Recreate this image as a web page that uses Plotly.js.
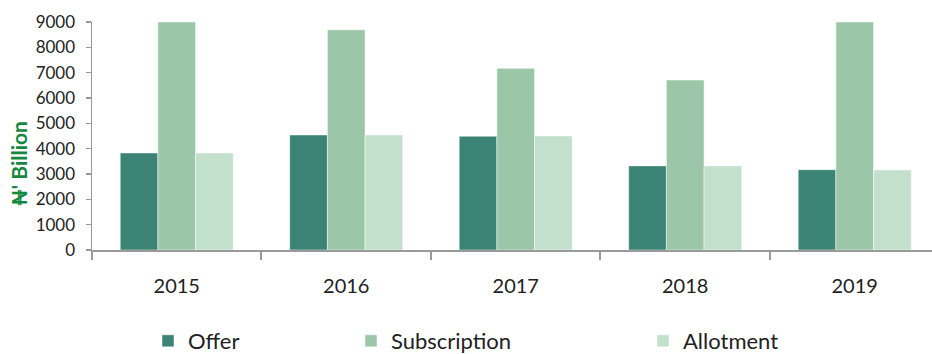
<!DOCTYPE html>
<html>
<head>
<meta charset="utf-8">
<script src="https://cdn.plot.ly/plotly-3.0.1.min.js"></script>
<style>html,body{margin:0;padding:0;background:#fff;}#chart{width:932px;height:354px;}</style>
</head>
<body>
<div id="chart"></div>
<script>
const years = ['2015', '2016', '2017', '2018', '2019'];
const offer = [3830, 4540, 4490, 3320, 3170];
const subscription = [9000, 8690, 7170, 6710, 9000];
const allotment = [3830, 4540, 4500, 3320, 3160];
const yTicks = [0, 1000, 2000, 3000, 4000, 5000, 6000, 7000, 8000, 9000];
const yTitle = "₦' Billion";

const FONT = 'Lato, "Open Sans", sans-serif';
const colors = ['#3b8374', '#9cc6a8', '#c3e0cd'];
const names = ['Offer', 'Subscription', 'Allotment'];
const series = [offer, subscription, allotment];
const legendIds = ['legend', 'legend2', 'legend3'];

const traces = series.map((vals, i) => ({
  type: 'bar',
  x: years,
  y: vals,
  name: names[i],
  legend: legendIds[i],
  marker: {color: colors[i], line: {color: 'rgba(255,255,255,0.6)', width: 0.8}},
  hoverinfo: 'x+y+name'
}));

const legendStyle = (x) => ({
  orientation: 'h', xref: 'container', yref: 'container',
  x: x, y: 13 / 354, xanchor: 'left', yanchor: 'middle',
  font: {family: FONT, size: 22, color: '#222'},
  bgcolor: 'rgba(0,0,0,0)', itemwidth: 30
});

const M = {l: 92, r: 0, t: 22, b: 104};
const plotW = 932 - M.l - M.r, plotH = 354 - M.t - M.b;

const layout = {
  width: 932, height: 354,
  margin: M,
  paper_bgcolor: '#fff', plot_bgcolor: '#fff',
  barmode: 'group', bargap: 0.333, bargroupgap: 0,
  showlegend: true,
  legend: legendStyle(148 / 932),
  legend2: legendStyle(351 / 932),
  legend3: legendStyle(643 / 932),
  xaxis: {
    type: 'category',
    range: [-0.5, 4.456],
    showline: true, linecolor: '#9a9a9a', linewidth: 2,
    ticks: 'outside', tickson: 'boundaries', ticklen: 8, tickcolor: '#9a9a9a', tickwidth: 2,
    tickfont: {family: FONT, size: 20, color: '#222'},
    ticklabelstandoff: 17,
    showgrid: false, zeroline: false, fixedrange: true
  },
  yaxis: {
    range: [0, 9000],
    tickvals: yTicks,
    ticktext: yTicks.map(String),
    showline: true, linecolor: '#9a9a9a', linewidth: 1.5,
    ticks: 'outside', ticklen: 5, tickcolor: '#9a9a9a', tickwidth: 1.5,
    tickfont: {family: FONT, size: 17, color: '#222'},
    ticklabelstandoff: 7,
    showgrid: false, zeroline: false, fixedrange: true
  },
  annotations: [{
    text: yTitle, textangle: -90,
    xref: 'paper', yref: 'paper',
    x: (18 - M.l) / plotW, y: (354 - M.b - 164) / plotH, xanchor: 'center', yanchor: 'middle',
    showarrow: false,
    font: {family: FONT, size: 21, color: '#15873f', weight: 'bold'}
  }]
};

Plotly.newPlot('chart', traces, layout, {displayModeBar: false, staticPlot: true});
</script>
</body>
</html>
